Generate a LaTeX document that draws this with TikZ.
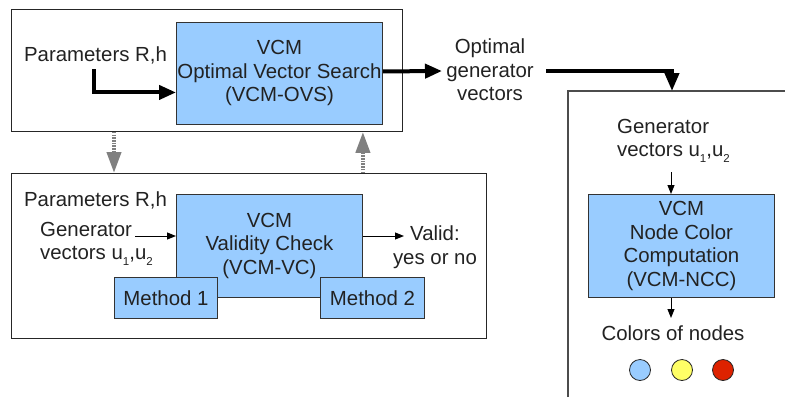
\documentclass[tikz,border=0pt]{standalone}
\usepackage{fontspec}
\setmainfont{Liberation Sans}
\usetikzlibrary{arrows.meta}
\definecolor{boxblue}{HTML}{99CCFF}
\definecolor{cyel}{HTML}{FFFF66}
\definecolor{cred}{HTML}{DD2200}
\definecolor{txtc}{HTML}{222222}
\definecolor{arrgray}{HTML}{808080}
\newcommand{\lowsub}[1]{\raisebox{-0.3em}{\fontsize{11.5}{11.5}\selectfont #1}}
\tikzset{
  frame/.style={draw=black!85, line width=0.9pt, inner sep=0, anchor=north west},
  bluebox/.style={draw=black!80, fill=boxblue, line width=0.9pt, inner sep=0, anchor=north west, align=center, text=txtc},
  txt/.style={inner sep=0, align=center, text=txtc},
  thickarr/.style={line width=4pt, -{Triangle[length=17pt,width=14pt]}},
  thinarr/.style={line width=1pt, -{Triangle[length=9pt,width=7pt]}},
  grayarr/.style={arrgray, line width=4pt, dash pattern=on 1.5pt off 1.2pt, -{Triangle[length=21pt,width=14pt]}},
  dot/.style={circle, draw=black!85, line width=0.8pt, minimum size=21pt, inner sep=0}
}
\begin{document}
\begin{tikzpicture}[x=1pt,y=-1pt,font=\fontsize{20.4}{23.5}\selectfont]
\useasboundingbox (0,0) rectangle (785,397);
% top frame
\node[frame, minimum width=391pt, minimum height=122pt] (topframe) at (11,9) {};
\node[bluebox, minimum width=206pt, minimum height=102pt] (ovs) at (176,22) {VCM\\Optimal Vector Search\\(VCM-OVS)};
\node[txt] (params1) at (95.5,55) {Parameters R,h};
\coordinate (p1) at (94,69);
\draw[thickarr] (p1) |- ([yshift=-19pt]ovs.west);
% optimal generator vectors
\node[txt] (optgen) at (490,70) {Optimal\\generator\\vectors};
\coordinate (og) at (442,71);
\draw[thickarr] ([yshift=2pt]ovs.east) -- (og);
% right frame
\coordinate (rfb) at (568,397);
\coordinate (rf) at (568,91);
\coordinate (rfr) at (785,91);
\draw[black!70, line width=1.2pt] (rfb) -- (rf) -- (rfr);
\coordinate (ogs) at (546,71);
\coordinate (rft) at (672,91);
\draw[line width=4pt, -{Triangle[length=18pt,width=14pt]}] (ogs) -| (rft);
% bottom frame
\node[frame, minimum width=475pt, minimum height=165pt] (botframe) at (11,173) {};
\node[bluebox, minimum width=186pt, minimum height=103pt] (vc) at (176,194) {VCM\\Validity Check\\(VCM-VC)};
\node[bluebox, minimum width=103pt, minimum height=41pt] (m1) at (114,277) {Method 1};
\node[bluebox, minimum width=104pt, minimum height=41pt] (m2) at (320,277) {Method 2};
\node[txt] (params2) at (95.5,200) {Parameters R,h};
\node[txt, align=left, anchor=west] (gen1) at (40,244) {Generator\\vectors u\lowsub{1},u\lowsub{2}};
\coordinate (g1) at (135,236);
\draw[thinarr] (g1) -- (vc.west |- g1);
\node[txt] (valid) at (435,247) {Valid:\\yes or no};
\coordinate (v1) at (404,236);
\draw[thinarr] (vc.east |- v1) -- (v1);
% gray arrows
\draw[grayarr] (m1.north west |- topframe.south) -- (m1.north west |- botframe.north);
\draw[grayarr] (vc.north east |- botframe.north) -- (vc.north east |- topframe.south);
% right part
\node[txt, align=left, anchor=west] (gen2) at (617,141) {Generator\\vectors u\lowsub{1},u\lowsub{2}};
\node[bluebox, minimum width=186pt, minimum height=103pt] (ncc) at (588,194) {VCM\\Node Color\\Computation\\(VCM-NCC)};
\coordinate (g2) at (671,172);
\draw[thinarr] (g2) -- (g2 |- ncc.north);
\node[txt] (colors) at (673,333) {Colors of nodes};
\coordinate (c0) at (671,318);
\draw[thinarr] (c0 |- ncc.south) -- (c0);
\node[dot, fill=boxblue] (c1) at (640,370) {};
\node[dot, fill=cyel] (c2) at (682,370) {};
\node[dot, fill=cred] (c3) at (723,370) {};
\end{tikzpicture}
\end{document}
